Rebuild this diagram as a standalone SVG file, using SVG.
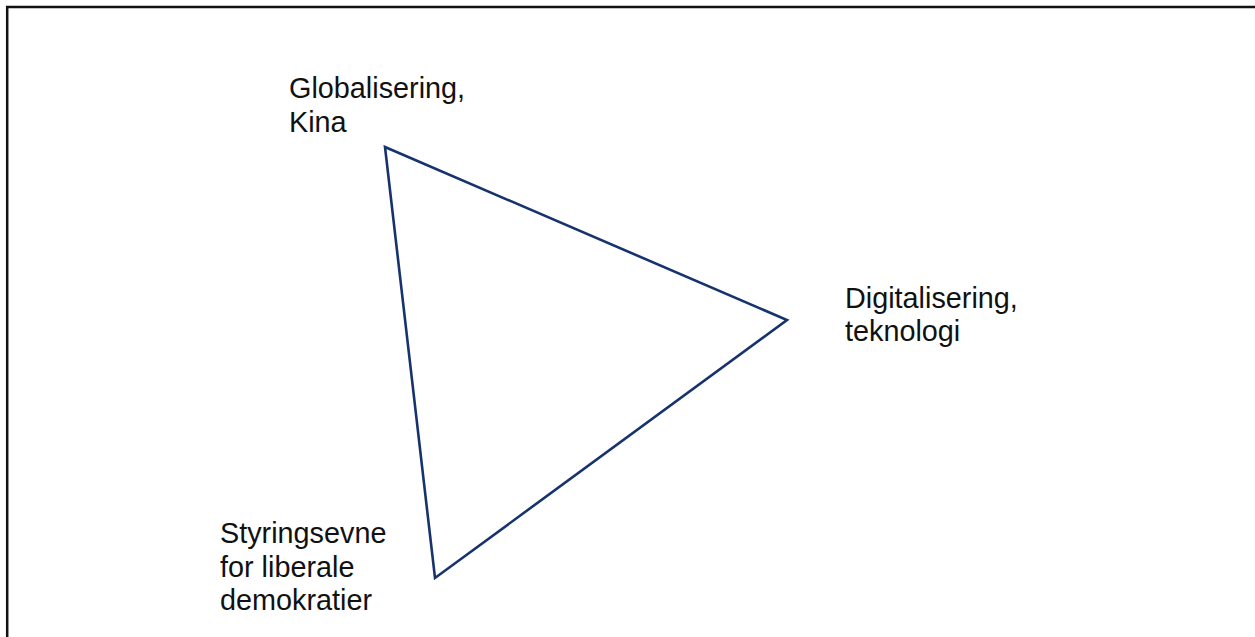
<svg xmlns="http://www.w3.org/2000/svg" width="1255" height="637" viewBox="0 0 1255 637">
  <style>
    .label { font-family: "Liberation Sans", Arial, sans-serif; font-size: 28.8px; fill: #111111; }
    .edge { fill: none; stroke: #17336e; stroke-width: 2.6; stroke-linejoin: miter; }
    .frame { stroke: #111111; stroke-width: 2.5; fill: none; }
  </style>
  <rect width="1255" height="637" fill="#ffffff"/>
  <!-- slide frame -->
  <g id="frame">
    <line class="frame" x1="6" y1="7" x2="1255" y2="7"/>
    <line class="frame" x1="7.2" y1="6" x2="7.2" y2="637"/>
  </g>
  <!-- triangle sides -->
  <g id="connectors">
    <polygon class="edge" points="385,147 787,320 435,578"/>
  </g>
  <g id="node-globalisering">
    <text class="label" x="289" y="98">Globalisering,</text>
    <text class="label" x="289" y="132">Kina</text>
  </g>
  <g id="node-digitalisering">
    <text class="label" x="845" y="308">Digitalisering,</text>
    <text class="label" x="845" y="341">teknologi</text>
  </g>
  <g id="node-styringsevne">
    <text class="label" x="220" y="543">Styringsevne</text>
    <text class="label" x="220" y="577">for liberale</text>
    <text class="label" x="220" y="610">demokratier</text>
  </g>
</svg>
